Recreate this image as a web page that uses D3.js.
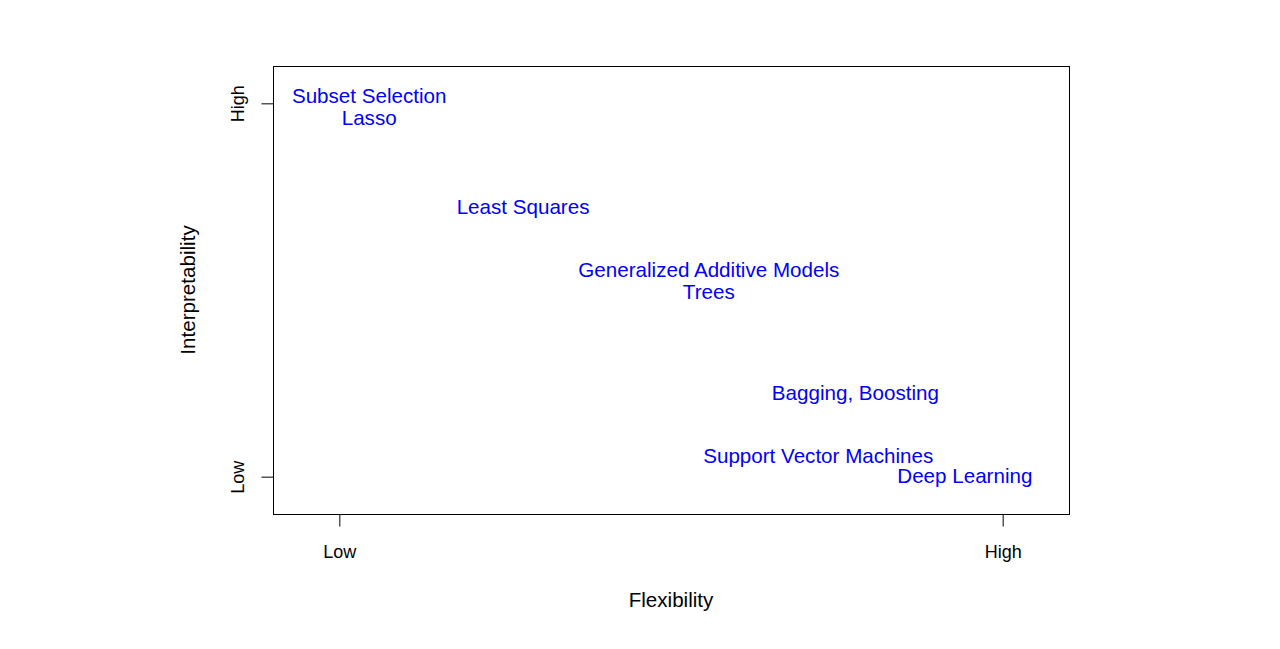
<!DOCTYPE html>
<html>
<head>
<meta charset="utf-8">
<script src="https://d3js.org/d3.v7.min.js"></script>
<style>
body { margin: 0; background: #fff; }
svg { font-family: "Liberation Sans", Arial, Helvetica, sans-serif; }
</style>
</head>
<body>
<svg id="vis" width="1280" height="649"></svg>
<script>
// methods and where they sit (flexibility, interpretability), 0 = Low, 1 = High
var methods = ["Subset Selection", "Lasso", "Least Squares", "Generalized Additive Models",
               "Trees", "Bagging, Boosting", "Support Vector Machines", "Deep Learning"];
var flexibility = [0.045, 0.045, 0.277, 0.557, 0.557, 0.778, 0.722, 0.943];
var interpretability = [1.02, 0.961, 0.723, 0.555, 0.496, 0.226, 0.057, 0.002];
var tickValues = [0, 1];
var tickLabels = ["Low", "High"];

var svg = d3.select("#vis");

// plot box
var boxLeft = 273, boxRight = 1069, boxTop = 66, boxBottom = 514;

var x = d3.scaleLinear().domain([-0.1, 1.1]).range([boxLeft, boxRight]);
var y = d3.scaleLinear().domain([-0.1, 1.1]).range([boxBottom, boxTop]);

svg.append("rect")
  .attr("x", boxLeft + 0.5).attr("y", boxTop + 0.5)
  .attr("width", boxRight - boxLeft).attr("height", boxBottom - boxTop)
  .attr("fill", "none").attr("stroke", "#000").attr("stroke-width", 1);

var xAxis = svg.append("g")
  .attr("transform", "translate(0," + (boxBottom + 0.5) + ")")
  .call(d3.axisBottom(x).tickValues(tickValues)
    .tickFormat(function(d, i) { return tickLabels[i]; })
    .tickSize(12).tickPadding(19).tickSizeOuter(0));
xAxis.select(".domain").remove();
xAxis.selectAll("text").attr("font-size", "18px").attr("fill", "#000")
  .attr("font-family", "Liberation Sans, Arial, sans-serif");

var yAxis = svg.append("g")
  .attr("transform", "translate(" + (boxLeft + 0.5) + ",0)")
  .call(d3.axisLeft(y).tickValues(tickValues)
    .tickFormat(function(d, i) { return tickLabels[i]; })
    .tickSize(12).tickSizeOuter(0));
yAxis.select(".domain").remove();
yAxis.selectAll("text")
  .attr("font-size", "18px").attr("fill", "#000")
  .attr("font-family", "Liberation Sans, Arial, sans-serif")
  .attr("x", null)
  .attr("text-anchor", "middle")
  .attr("transform", "translate(-36,0) rotate(-90)")
  .attr("y", 0).attr("dy", "0.35em");

// method labels
svg.append("g").selectAll("text")
  .data(methods)
  .enter()
  .append("text")
  .attr("x", function(d, i) { return x(flexibility[i]); })
  .attr("y", function(d, i) { return y(interpretability[i]); })
  .attr("dy", "0.35em")
  .attr("text-anchor", "middle")
  .attr("font-size", "20.6px")
  .attr("fill", "#0000ff")
  .text(function(d) { return d; });

// axis titles
svg.append("text")
  .attr("x", (boxLeft + boxRight) / 2).attr("y", 600)
  .attr("dy", "0.35em")
  .attr("text-anchor", "middle")
  .attr("font-size", "20.6px")
  .text("Flexibility");

svg.append("text")
  .attr("transform", "translate(188," + (boxTop + boxBottom) / 2 + ") rotate(-90)")
  .attr("dy", "0.35em")
  .attr("text-anchor", "middle")
  .attr("font-size", "20.6px")
  .text("Interpretability");
</script>
</body>
</html>
